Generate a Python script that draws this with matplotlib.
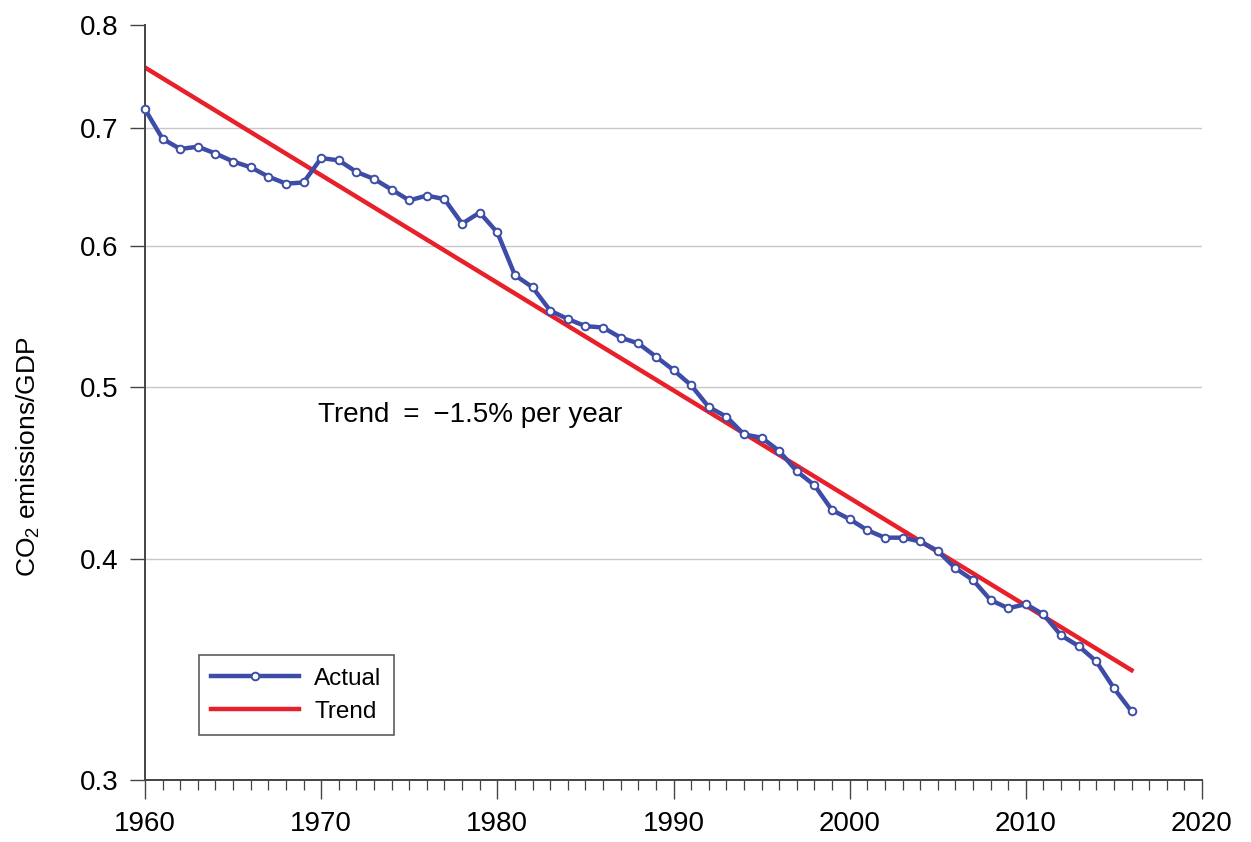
import matplotlib
matplotlib.use("Agg")
import matplotlib.pyplot as plt
from matplotlib.ticker import FixedLocator, MultipleLocator, NullLocator

plt.rcParams['font.family'] = ['Liberation Sans', 'DejaVu Sans']
plt.rcParams['mathtext.default'] = 'regular'

# ── data ──
years = list(range(1960, 2017))
actual = [
    0.717, 0.690, 0.681, 0.683, 0.677, 0.670, 0.665, 0.657, 0.651, 0.652,
    0.673, 0.671, 0.661, 0.655, 0.646, 0.637, 0.641, 0.638, 0.618, 0.627,
    0.611, 0.578, 0.569, 0.552, 0.546, 0.541, 0.540, 0.533, 0.529, 0.520,
    0.511, 0.501, 0.487, 0.481, 0.470, 0.468, 0.460, 0.448, 0.440, 0.426,
    0.421, 0.415, 0.411, 0.411, 0.409, 0.404, 0.395, 0.389, 0.379, 0.375,
    0.377, 0.372, 0.362, 0.357, 0.350, 0.338, 0.328,
]
trend_years = [1960, 2016]
trend_values = [0.757, 0.346]

y_ticks = [0.3, 0.4, 0.5, 0.6, 0.7, 0.8]
y_labels = ["0.3", "0.4", "0.5", "0.6", "0.7", "0.8"]
x_ticks = [1960, 1970, 1980, 1990, 2000, 2010, 2020]

blue = "#3d4ca6"
red = "#e8202a"
axis_col = "#444444"

fig = plt.figure(figsize=(12.51, 8.42), dpi=100)
ax = fig.add_axes([145 / 1251, 1 - 780 / 842, 1057 / 1251, 755 / 842])

ax.plot(years, actual, color=blue, lw=3.2, marker='o', ms=5.5,
        mfc='white', mec=blue, mew=1.4, label="Actual", clip_on=False, zorder=3)
ax.plot(trend_years, trend_values, color=red, lw=3.2, label="Trend", zorder=2)

ax.set_yscale('log')
ax.set_ylim(0.3, 0.8)
ax.set_xlim(1960, 2020)
ax.yaxis.set_major_locator(FixedLocator(y_ticks))
ax.yaxis.set_minor_locator(NullLocator())
ax.set_yticklabels(y_labels)
ax.set_xticks(x_ticks)
ax.xaxis.set_minor_locator(MultipleLocator(1))

ax.grid(True, axis='y', color='#c8c8c8', lw=1.0)
ax.yaxis.get_gridlines()[-1].set_visible(False)
ax.set_axisbelow(True)

for s in ['top', 'right']:
    ax.spines[s].set_visible(False)
for s in ['left', 'bottom']:
    ax.spines[s].set_color(axis_col)
    ax.spines[s].set_linewidth(1.4)

ax.tick_params(axis='y', which='major', length=11, width=1.0, color=axis_col,
               labelsize=20, pad=8)
ax.tick_params(axis='x', which='major', length=14, width=1.0, color=axis_col,
               labelsize=20, pad=8)
ax.tick_params(axis='x', which='minor', length=7, width=0.9, color=axis_col)

ax.set_ylabel(r"CO$_2$ emissions/GDP", fontsize=19)
ax.yaxis.set_label_coords(-0.097, 0.428)

ax.text(1969.8, 0.482, "Trend\u2002=\u2002\u22121.5% per year", fontsize=20,
        ha='left', va='center')

leg = ax.legend(loc='lower left', bbox_to_anchor=(0.051, 0.06), borderaxespad=0,
                fontsize=17.5, frameon=True, fancybox=False, edgecolor='#333333',
                borderpad=0.5, labelspacing=0.45, handlelength=3.6,
                handletextpad=0.65, numpoints=1)
leg.get_frame().set_linewidth(1.2)

fig.savefig("out.png", dpi=100)
